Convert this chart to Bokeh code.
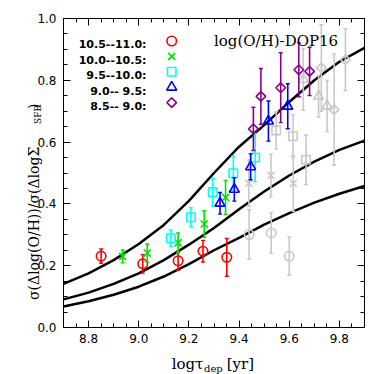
import math
from bokeh.plotting import figure
from bokeh.models import Range1d, FixedTicker, LinearAxis, Label, Div
from bokeh.layouts import row, column
from bokeh.embed import file_html
from bokeh.resources import INLINE

# ---------------- data ----------------
curve_x = [8.7, 8.8, 8.9, 9.0, 9.1, 9.2, 9.3, 9.4, 9.5, 9.6, 9.7, 9.8, 9.9]
curve_upper = [0.141, 0.175, 0.218, 0.270, 0.332, 0.410, 0.500, 0.585, 0.655, 0.730, 0.800, 0.860, 0.905]
curve_middle = [0.091, 0.113, 0.141, 0.175, 0.218, 0.268, 0.322, 0.383, 0.440, 0.492, 0.537, 0.575, 0.605]
curve_lower = [0.068, 0.085, 0.106, 0.132, 0.165, 0.205, 0.250, 0.290, 0.333, 0.370, 0.404, 0.433, 0.458]

bin_labels = ["10.5--11.0:", "10.0--10.5:", "9.5--10.0:", "9.0-- 9.5:", "8.5-- 9.0:"]

red_x = [8.850, 9.016, 9.157, 9.256, 9.351]
red_y = [0.231, 0.206, 0.216, 0.247, 0.227]
red_e = [0.023, 0.030, 0.031, 0.035, 0.061]

green_x = [8.936, 9.034, 9.157, 9.261, 9.346]
green_y = [0.230, 0.241, 0.274, 0.335, 0.421]
green_e = [0.021, 0.029, 0.032, 0.043, 0.055]

cyan_x = [9.128, 9.208, 9.295, 9.377, 9.464]
cyan_y = [0.289, 0.357, 0.438, 0.499, 0.550]
cyan_e = [0.027, 0.031, 0.045, 0.056, 0.078]

blue_x = [9.324, 9.381, 9.446, 9.517, 9.594]
blue_y = [0.402, 0.447, 0.520, 0.668, 0.716]
blue_e = [0.035, 0.038, 0.042, 0.065, 0.073]

purple_x = [9.457, 9.487, 9.566, 9.638, 9.681]
purple_y = [0.643, 0.748, 0.776, 0.834, 0.829]
purple_e = [0.070, 0.090, 0.113, 0.087, 0.078]

grey_circle_x = [9.440, 9.528, 9.600]
grey_circle_y = [0.301, 0.306, 0.231]
grey_circle_e = [0.080, 0.066, 0.062]

grey_x_x = [9.439, 9.527, 9.616]
grey_x_y = [0.467, 0.492, 0.466]
grey_x_e = [0.075, 0.070, 0.090]

grey_square_x = [9.548, 9.615, 9.667]
grey_square_y = [0.638, 0.619, 0.543]
grey_square_e = [0.060, 0.070, 0.080]

grey_tri_x = [9.656, 9.717, 9.751]
grey_tri_y = [0.803, 0.748, 0.717]
grey_tri_e = [0.100, 0.067, 0.083]

grey_dia_x = [9.728, 9.779, 9.824]
grey_dia_y = [0.840, 0.705, 0.867]
grey_dia_e = [0.140, 0.180, 0.100]

x_ticks = [8.8, 9.0, 9.2, 9.4, 9.6, 9.8]
x_tick_labels = ["8.8", "9.0", "9.2", "9.4", "9.6", "9.8"]
y_ticks = [0.0, 0.2, 0.4, 0.6, 0.8, 1.0]
y_tick_labels = ["0.0", "0.2", "0.4", "0.6", "0.8", "1.0"]

title_text = "log(O/H)-DOP16"

# ---------------- styles / layout ----------------
X0, X1 = 8.7, 9.9
Y0, Y1 = 0.0, 1.0
YDIV_W = 32
BL, BR, BT, BB = 31, 1, 18, 20
FW, FH = 301, 309
GREY = "#c8c8c8"
RED, GREEN, CYAN, BLUE, PURPLE = "#ff0000", "#00e000", "#00ffff", "#0000ff", "#8b008b"
SERIF = "DejaVu Serif"
SANS = "DejaVu Sans"

p = figure(width=BL + FW + BR, height=BT + FH + BB,
           x_range=Range1d(X0, X1), y_range=Range1d(Y0, Y1),
           output_backend="svg", toolbar_location=None,
           min_border_left=BL, min_border_right=BR, min_border_top=BT, min_border_bottom=BB,
           x_axis_location=None, y_axis_location=None)
p.xgrid.visible = False
p.ygrid.visible = False
p.outline_line_color = "black"
p.outline_line_width = 1
p.background_fill_color = "white"
p.border_fill_alpha = 0.0

minor_x = [round(X0 + 0.05 * i, 3) for i in range(int(round((X1 - X0) / 0.05)) + 1)]
minor_y = [round(Y0 + 0.05 * i, 3) for i in range(21)]
xt = FixedTicker(ticks=x_ticks, minor_ticks=minor_x)
yt = FixedTicker(ticks=y_ticks, minor_ticks=minor_y)


def style_axis(ax, show):
    ax.major_tick_in = 7
    ax.major_tick_out = 0
    ax.minor_tick_in = 4
    ax.minor_tick_out = 0
    ax.axis_line_color = "black"
    ax.major_tick_line_color = "black"
    ax.minor_tick_line_color = "black"
    ax.major_tick_line_width = 1
    ax.minor_tick_line_width = 1
    if show:
        ax.major_label_text_font = SANS
        ax.major_label_text_font_size = "12px"
        ax.major_label_text_color = "black"
        ax.major_label_standoff = 7
    else:
        ax.major_label_text_font_size = "0px"
        ax.major_label_standoff = 0


bx = LinearAxis(ticker=xt, major_label_overrides=dict(zip(x_ticks, x_tick_labels)))
style_axis(bx, True)
bx.major_label_standoff = 6
p.add_layout(bx, "below")
tx = LinearAxis(ticker=xt, major_label_overrides={t: "" for t in x_ticks})
style_axis(tx, False)
p.add_layout(tx, "above")
ly = LinearAxis(ticker=yt, major_label_overrides=dict(zip(y_ticks, y_tick_labels)))
style_axis(ly, True)
p.add_layout(ly, "left")
ry = LinearAxis(ticker=yt, major_label_overrides={t: "" for t in y_ticks})
style_axis(ry, False)
p.add_layout(ry, "right")

# model curves
for cy in (curve_upper, curve_middle, curve_lower):
    p.line(curve_x, cy, line_color="black", line_width=2.5)


def draw_marker(xs, ys, color, kind):
    if kind == "circle":
        p.scatter(xs, ys, marker="circle", size=9.5, fill_color=None, line_color=color, line_width=1.6)
    elif kind == "x":
        p.scatter(xs, ys, marker="x", size=10, line_color=color, line_width=1.6)
    elif kind == "square":
        p.scatter(xs, ys, marker="square", size=8.5, fill_color=None, line_color=color, line_width=1.6)
    elif kind == "triangle":
        p.scatter(xs, ys, marker="triangle", size=10, fill_color=None, line_color=color, line_width=1.6)
    else:  # diamond
        p.scatter(xs, ys, marker="square", size=6.8, angle=math.pi / 4, fill_color=None,
                  line_color=color, line_width=1.6)


def points(xs, ys, es, color, kind):
    lo = [y - e for y, e in zip(ys, es)]
    hi = [y + e for y, e in zip(ys, es)]
    p.segment(x0=xs, y0=lo, x1=xs, y1=hi, line_color=color, line_width=1.6)
    p.scatter(x=xs + xs, y=lo + hi, marker="dash", size=4, line_color=color, line_width=1.4)
    draw_marker(xs, ys, color, kind)


points(grey_circle_x, grey_circle_y, grey_circle_e, GREY, "circle")
points(grey_x_x, grey_x_y, grey_x_e, GREY, "x")
points(grey_square_x, grey_square_y, grey_square_e, GREY, "square")
points(grey_tri_x, grey_tri_y, grey_tri_e, GREY, "triangle")
points(grey_dia_x, grey_dia_y, grey_dia_e, GREY, "diamond")

points(red_x, red_y, red_e, RED, "circle")
points(green_x, green_y, green_e, GREEN, "x")
points(cyan_x, cyan_y, cyan_e, CYAN, "square")
points(blue_x, blue_y, blue_e, BLUE, "triangle")
points(purple_x, purple_y, purple_e, PURPLE, "diamond")

# ---------------- legend (text left, marker right) ----------------
leg_text_right = 83.0      # px from frame left
leg_marker_px = 108.2      # px from frame left
leg_top_py = 22.5          # px from frame top (first row centre)
leg_step = 15.4
kinds = ["circle", "x", "square", "triangle", "diamond"]
cols = [RED, GREEN, CYAN, BLUE, PURPLE]
for i, (lbl, k, c) in enumerate(zip(bin_labels, kinds, cols)):
    py = leg_top_py + i * leg_step
    p.add_layout(Label(x=leg_text_right, y=FH - py - 3.8, x_units="screen", y_units="screen",
                       text=lbl, text_font=SANS, text_font_size="11px", text_font_style="bold",
                       text_align="right", text_baseline="alphabetic", text_color="black"))
    mx = X0 + leg_marker_px / FW * (X1 - X0)
    my = Y1 - py / FH * (Y1 - Y0)
    draw_marker([mx], [my], c, k)

# title inside plot
p.add_layout(Label(x=150.5, y=FH - 22.5, x_units="screen", y_units="screen",
                   text=title_text, text_font=SERIF, text_font_size="15px",
                   text_align="left", text_baseline="alphabetic", text_color="black"))

# ---------------- axis titles as HTML (real text with subscripts) ----------------
ROT = ('position:absolute;transform:rotate(-90deg);transform-origin:0 0;white-space:nowrap;'
       'font-family:\'DejaVu Serif\';color:#000;')
ylab_html = (
    '<div style="position:relative;width:0;height:0;">'
    '<div style="' + ROT + 'left:25.5px;top:288px;font-size:14px;line-height:16px;">σ(Δlog(O/H))/σ(ΔlogΣ</div>'
    '<div style="' + ROT + 'left:32.5px;top:112px;font-size:9px;line-height:10px;">SFR</div>'
    '<div style="' + ROT + 'left:25.5px;top:96.5px;font-size:14px;line-height:16px;">)</div>'
    '</div>'
)
HOR = ('position:absolute;white-space:nowrap;font-family:\'DejaVu Serif\';color:#000;')
xlab_html = (
    '<div style="position:relative;width:0;height:0;">'
    '<div style="' + HOR + 'left:171.7px;top:-1px;font-size:15px;line-height:12px;">logτ</div>'
    '<div style="' + HOR + 'left:204px;top:3.5px;font-size:10px;line-height:12px;">dep</div>'
    '<div style="' + HOR + 'left:226.7px;top:-1px;font-size:15px;line-height:12px;">[yr]</div>'
    '</div>'
)
ydiv = Div(text=ylab_html, width=YDIV_W, height=BT + FH + BB, margin=0,
           styles={"overflow": "visible"})
xdiv = Div(text=xlab_html, width=YDIV_W + BL + FW + BR, height=16, margin=0,
           styles={"overflow": "visible"})

layout = column(row(ydiv, p, spacing=0), xdiv, spacing=0)
open("out.html", "w").write(file_html(layout, INLINE))
